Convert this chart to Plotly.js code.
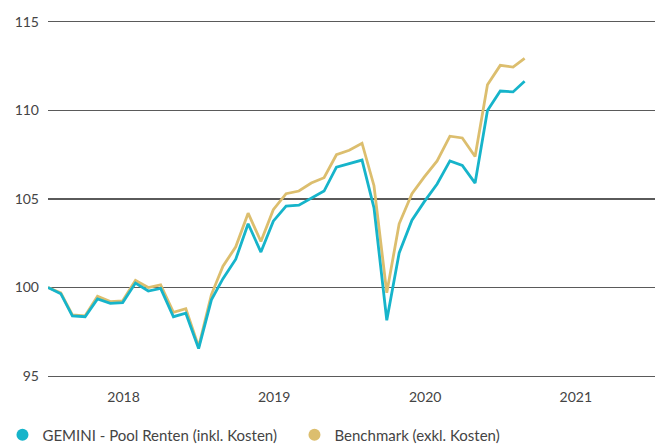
<!DOCTYPE html>
<html>
<head>
<meta charset="utf-8">
<script src="https://cdn.plot.ly/plotly-3.0.1.min.js"></script>
<style>html,body{margin:0;padding:0;background:#fff;}#chart{width:655px;height:445px;}</style>
</head>
<body>
<div id="chart"></div>
<script>
const dates = ['2017-12-31','2018-01-31','2018-02-28','2018-03-31','2018-04-30','2018-05-31','2018-06-30','2018-07-31','2018-08-31','2018-09-30','2018-10-31','2018-11-30','2018-12-31',
'2019-01-31','2019-02-28','2019-03-31','2019-04-30','2019-05-31','2019-06-30','2019-07-31','2019-08-31','2019-09-30','2019-10-31','2019-11-30','2019-12-31',
'2020-01-31','2020-02-29','2020-03-31','2020-04-30','2020-05-31','2020-06-30','2020-07-31','2020-08-31','2020-09-30','2020-10-31','2020-11-30','2020-12-31',
'2021-01-31','2021-02-28'];
const gemini = [100, 99.65, 98.4, 98.35, 99.35, 99.1, 99.15, 100.25, 99.8, 99.95, 98.35, 98.55, 96.55,
99.3, 100.5, 101.6, 103.6, 102.0, 103.75, 104.6, 104.65, 105.05, 105.45, 106.8, 107.0,
107.2, 104.5, 98.15, 101.95, 103.8, 104.85, 105.85, 107.15, 106.9, 105.9, 110.0, 111.1,
111.05, 111.65];
const benchmark = [100, 99.7, 98.45, 98.4, 99.5, 99.2, 99.25, 100.4, 100.0, 100.15, 98.6, 98.8, 96.65,
99.6, 101.2, 102.3, 104.2, 102.6, 104.4, 105.3, 105.45, 105.9, 106.2, 107.5, 107.75,
108.15, 105.75, 99.7, 103.6, 105.3, 106.25, 107.15, 108.55, 108.45, 107.4, 111.45, 112.55,
112.45, 112.95];
const yearTickVals = ['2018-07-02','2019-07-02','2020-07-02','2021-07-02'];
const yearTickText = ['2018','2019','2020','2021'];
const seriesNames = ['GEMINI - Pool Renten (inkl. Kosten)','Benchmark (exkl. Kosten)'];
const colors = ['#16B4CA','#DCBE6E'];

const traces = [
  {x: dates, y: benchmark, mode:'lines', line:{color:colors[1], width:2.8}, showlegend:false, hoverinfo:'skip'},
  {x: dates, y: gemini, mode:'lines', line:{color:colors[0], width:2.8}, showlegend:false, hoverinfo:'skip'},
  {x:[null], y:[null], mode:'markers', name:seriesNames[0], marker:{color:colors[0], size:12}},
  {x:[null], y:[null], mode:'markers', name:seriesNames[1], marker:{color:colors[1], size:12}}
];
const layout = {
  width:655, height:445,
  margin:{l:48, r:0, t:22, b:69, autoexpand:false},
  paper_bgcolor:'#fff', plot_bgcolor:'#fff',
  font:{family:'Lato, sans-serif', size:14, color:'#444'},
  xaxis:{type:'date', range:['2017-12-31','2022-01-10'], showgrid:false, zeroline:false,
         tickmode:'array', tickvals:yearTickVals, ticktext:yearTickText, ticks:'', ticklabelstandoff:8,
         showline:true, mirror:true, linecolor:'#5a5a5a', linewidth:1.3},
  yaxis:{range:[95,115], tickvals:[95,100,105,110,115], showgrid:true, gridcolor:'#5a5a5a', gridwidth:1.3,
         zeroline:false, ticks:'', ticklabelstandoff:8, showline:false},
  legend:{orientation:'h', x:-0.075, xanchor:'left', y:-0.12, yanchor:'top', font:{size:15, color:'#444'},
          itemwidth:30, entrywidth:247, tracegroupgap:0},
  showlegend:true
};
Plotly.newPlot('chart', traces, layout, {staticPlot:true, displayModeBar:false});
</script>
</body>
</html>
